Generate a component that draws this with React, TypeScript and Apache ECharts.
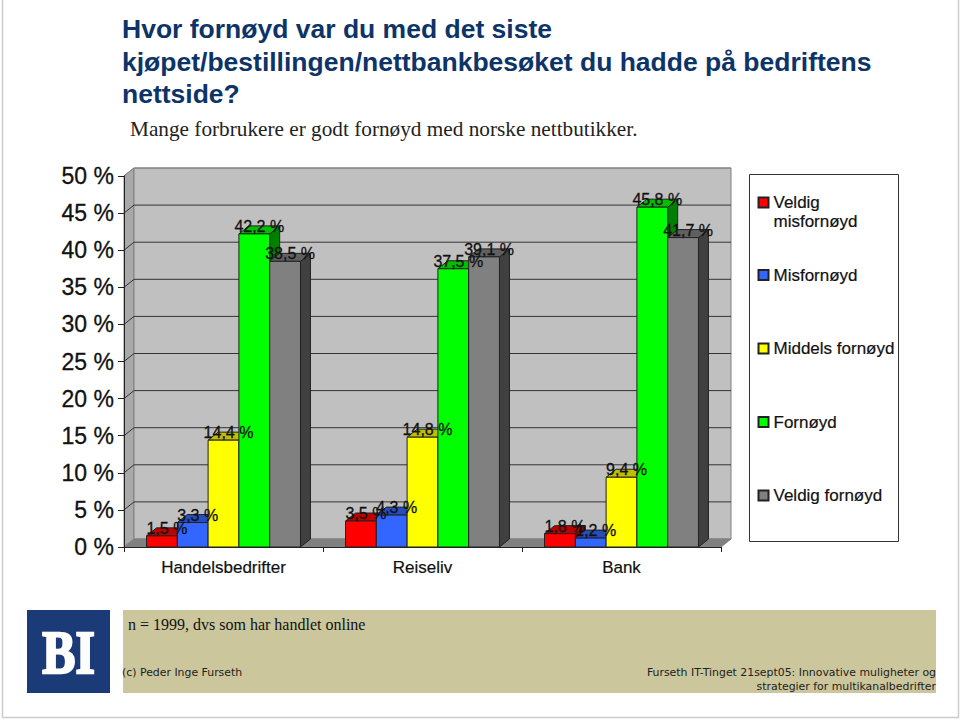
import React, { useEffect, useRef } from "react";
import * as echarts from "echarts";

const categories = ["Handelsbedrifter", "Reiseliv", "Bank"];
const seriesNames = ["Veldig misfornøyd", "Misfornøyd", "Middels fornøyd", "Fornøyd", "Veldig fornøyd"];
const veldigMisfornoyd = [1.5, 3.5, 1.8];
const misfornoyd = [3.3, 4.3, 1.2];
const middelsFornoyd = [14.4, 14.8, 9.4];
const fornoyd = [42.2, 37.5, 45.8];
const veldigFornoyd = [38.5, 39.1, 41.7];
const allValues = [veldigMisfornoyd, misfornoyd, middelsFornoyd, fornoyd, veldigFornoyd];
const gridTicks = [0, 5, 10, 15, 20, 25, 30, 35, 40, 45, 50];
const titleLines = ["Hvor fornøyd var du med det siste", "kjøpet/bestillingen/nettbankbesøket du hadde på bedriftens", "nettside?"];
const subtitle = "Mange forbrukere er godt fornøyd med norske nettbutikker.";
const footNote = "n = 1999, dvs som har handlet online";
const footLeft = "(c) Peder Inge Furseth";
const footRight = "Furseth IT-Tinget 21sept05: Innovative muligheter og\nstrategier for multikanalbedrifter";

const frontColors = ["#ff0000", "#3366ff", "#ffff00", "#00ff00", "#808080"];
const topColors = ["#bf0000", "#264dbf", "#bfbf00", "#00bf00", "#606060"];
const sideColors = ["#800000", "#1a3380", "#808000", "#008000", "#404040"];
const DX = 10;
const DY = 8;
const BAR_SHARE = 0.1547;
const LINE = "#222222";
const SANS = "'Liberation Sans', Arial, sans-serif";
const SERIF = "'Liberation Serif', 'Times New Roman', serif";

function wallItem(params: any, api: any) {
  const v = api.value(0);
  const cs = params.coordSys;
  const p = api.coord([0, v]);
  const x0 = cs.x;
  const x1 = cs.x + cs.width;
  const children: any[] = [];
  if (v === 0) {
    const top = cs.y;
    const bot = cs.y + cs.height;
    children.push({ type: "polygon", shape: { points: [[x0, bot], [x0 + DX, bot - DY], [x0 + DX, top - DY], [x0, top]] }, style: { fill: "#a9a9a9", stroke: "#808080", lineWidth: 1 }, z2: 0 });
    children.push({ type: "rect", shape: { x: x0 + DX, y: top - DY, width: cs.width, height: cs.height }, style: { fill: "#c0c0c0", stroke: "#808080", lineWidth: 1 }, z2: 0 });
    children.push({ type: "polygon", shape: { points: [[x0, bot], [x1, bot], [x1 + DX, bot - DY], [x0 + DX, bot - DY]] }, style: { fill: "#808080", stroke: "#808080", lineWidth: 1 }, z2: 1 });
  } else {
    const stroke = v === 50 ? "#808080" : "#333333";
    children.push({ type: "polyline", shape: { points: [[x0, p[1]], [x0 + DX, p[1] - DY], [x1 + DX, p[1] - DY]] }, style: { fill: "none", stroke, lineWidth: 1 }, z2: 2 });
  }
  return { type: "group", children };
}

function barItem(params: any, api: any) {
  const s = params.seriesIndex - 1;
  const band = api.size([1, 0])[0];
  const w = band * BAR_SHARE;
  const value = api.value(1);
  const top = api.coord([api.value(0), value]);
  const base = api.coord([api.value(0), 0]);
  const left = top[0] + (s - 2.5) * w;
  const right = left + w;
  const label = value.toFixed(1).replace(".", ",") + " %";
  return {
    type: "group",
    children: [
      { type: "polygon", shape: { points: [[right, base[1]], [right + DX, base[1] - DY], [right + DX, top[1] - DY], [right, top[1]]] }, style: { fill: sideColors[s], stroke: LINE, lineWidth: 1 } },
      { type: "polygon", shape: { points: [[left, top[1]], [left + DX, top[1] - DY], [right + DX, top[1] - DY], [right, top[1]]] }, style: { fill: topColors[s], stroke: LINE, lineWidth: 1 } },
      { type: "rect", shape: { x: left, y: top[1], width: w, height: base[1] - top[1] }, style: { fill: frontColors[s], stroke: LINE, lineWidth: 1 } },
      { type: "text", z2: 100, style: { text: label, x: left + w / 2 + DX / 2, y: top[1] - DY + 0.5, align: "center", verticalAlign: "middle", font: `16px ${SANS}`, fill: "#111111", stroke: "#111111", lineWidth: 0.3 } },
    ],
  };
}

export default function App() {
  const ref = useRef<HTMLDivElement>(null);
  useEffect(() => {
    document.body.style.margin = "0";
    const chart = echarts.init(ref.current!, undefined, { renderer: "svg" });
    const legendBase = {
      orient: "vertical" as const,
      left: 757.5,
      itemWidth: 10,
      itemHeight: 10,
      itemGap: 54.5,
      icon: "rect",
      z: 5,
      padding: 0,
      textStyle: { fontFamily: SANS, fontSize: 17, color: "#111111", lineHeight: 19, textBorderColor: "#111111", textBorderWidth: 0.2 },
      selectedMode: false,
    };
    chart.setOption({
      animation: false,
      backgroundColor: "#ffffff",
      title: {
        text: titleLines.join("\n"),
        left: 122,
        top: 13,
        padding: 0,
        textStyle: { fontFamily: SANS, fontSize: 26.5, fontWeight: "bold", color: "#0d3468", lineHeight: 32.5 },
      },
      grid: { left: 124, top: 176, width: 597, height: 371 },
      legend: [
        { ...legendBase, top: 174, data: [seriesNames[0]], formatter: () => "\nVeldig\nmisfornøyd" },
        { ...legendBase, top: 265.5, data: seriesNames.slice(1) },
      ],
      xAxis: {
        type: "category",
        data: categories,
        z: 3,
        axisLine: { lineStyle: { color: LINE, width: 1 } },
        axisTick: { show: true, alignWithLabel: false, length: 5, lineStyle: { color: LINE } },
        axisLabel: { fontFamily: SANS, fontSize: 17, color: "#111111", margin: 12, textBorderColor: "#111111", textBorderWidth: 0.2 },
      },
      yAxis: {
        type: "value",
        min: 0,
        max: 50,
        interval: 5,
        z: 3,
        axisLine: { show: true, lineStyle: { color: LINE, width: 1 } },
        axisTick: { show: true, length: 6, lineStyle: { color: LINE } },
        splitLine: { show: false },
        axisLabel: { fontFamily: SANS, fontSize: 23, color: "#111111", margin: 10, formatter: "{value} %", textBorderColor: "#111111", textBorderWidth: 0.3 },
      },
      series: [
        { type: "custom", name: "vegger", z: 1, silent: true, coordinateSystem: "cartesian2d", renderItem: wallItem, encode: { y: 0 }, data: gridTicks.map((t) => [t]) },
        ...seriesNames.map((name, i) => ({
          type: "custom",
          name,
          z: 2,
          coordinateSystem: "cartesian2d",
          renderItem: barItem,
          encode: { x: 0, y: 1 },
          itemStyle: { color: frontColors[i], borderColor: LINE, borderWidth: 1 },
          data: allValues[i].map((v, c) => [c, v]),
        })),
      ],
      graphic: [
        { type: "polyline", z: 0, shape: { points: [[2.5, 0], [2.5, 717.5], [958.5, 717.5], [958.5, 0]] }, style: { fill: "none", stroke: "#cccccc", lineWidth: 1.5 } },
        { type: "rect", z: 0, shape: { x: 749.5, y: 174.5, width: 149, height: 367 }, style: { fill: "#ffffff", stroke: "#333333", lineWidth: 1 } },
        { type: "text", z: 1, style: { text: subtitle, x: 130, y: 129, verticalAlign: "middle", font: `21.25px ${SERIF}`, fill: "#222222" } },
        { type: "rect", z: 0, shape: { x: 27, y: 610, width: 83, height: 83 }, style: { fill: "#1a3a78" } },
        { type: "rect", z: 0, shape: { x: 123, y: 610, width: 813, height: 83 }, style: { fill: "#cbc69b" } },
        { type: "text", z: 1, x: 68.5, y: 652, scaleX: 0.8, style: { text: "BI", x: 0, y: 0, align: "center", verticalAlign: "middle", font: `bold 62px ${SERIF}`, fill: "#ffffff", stroke: "#ffffff", lineWidth: 2.5 } },
        { type: "text", z: 1, style: { text: footNote, x: 128, y: 624, verticalAlign: "middle", font: `16px ${SERIF}`, fill: "#111111" } },
        { type: "text", z: 1, style: { text: footLeft, x: 122, y: 672, verticalAlign: "middle", font: `10.9px 'DejaVu Sans', sans-serif`, fill: "#222222" } },
        { type: "text", z: 1, style: { text: footRight, x: 936, y: 679, align: "right", verticalAlign: "middle", lineHeight: 14, font: `10.9px 'DejaVu Sans', sans-serif`, fill: "#222222" } },
      ],
    });
    return () => chart.dispose();
  }, []);
  return <div ref={ref} style={{ width: 960, height: 720 }} />;
}
